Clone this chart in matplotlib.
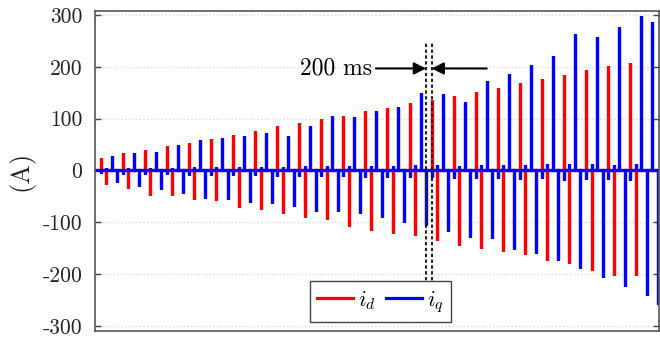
import numpy as np
import matplotlib
matplotlib.use("Agg")
import matplotlib.pyplot as plt

plt.rcParams['font.family'] = ['cmr10', 'DejaVu Serif']
plt.rcParams['mathtext.fontset'] = 'cm'
plt.rcParams['axes.unicode_minus'] = False

# ---------------- data ----------------
pulse_step_s = 0.2   # one injected pulse every 200 ms

# id (red) pulse peaks per cycle (A)
id_pos_peaks = [25, 33, 40, 47, 54, 61, 68, 76, 85, 91, 99, 106, 114, 121, 130,
                137, 144, 152, 160, 168, 177, 184, 194, 202, 207]
id_neg_peaks = [-26, -34, -47, -47, -55, -57, -70, -75, -83, -90, -94, -107, -114,
                -121, -124, -135, -143, -149, -155, -162, -173, -178, -192, -202, -202]
# iq (blue) pulse peaks per cycle (A)
iq_pos_peaks = [27, 34, 36, 50, 59, 63, 67, 73, 67, 85, 106, 103, 114, 123, 150,
                148, 133, 173, 186, 204, 222, 263, 258, 278, 298, 287]
iq_neg_peaks = [-23, -30, -36, -44, -54, -56, -60, -63, -69, -78, -78, -83, -89,
                -99, -106, -117, -128, -131, -152, -160, -173, -189, -205, -224, -240, -258]
# small iq cross-coupling blips during the id pulses (A)
iq_blip_at_id_pos = [-5, -6, -6, -7, -8, -8, -9, -9, -10, -10, -11, -11, -12, -12,
                     -13, -13, -15, -15, -15, -16, -15, -18, -16, -16, -18]
iq_blip_at_id_neg = [4, 4, 5, 5, 6, 6, 6, 7, 7, 8, 8, 8, 9, 9, 10, 10, 9, 10, 10,
                     11, 12, 12, 12, 11, 12]

marker_times_s = [11.8, 12.0]        # dashed markers
yticks = [-300, -200, -100, 0, 100, 200, 300]
ytick_labels = ['-300', '-200', '-100', '0', '100', '200', '300']
legend_labels = [r'$i_d$', r'$i_q$']

# ---------------- build pulse sequences ----------------
id_vals, iq_vals = [], []
for c in range(len(id_pos_peaks)):
    id_vals += [id_pos_peaks[c], id_neg_peaks[c], 0, 0]
    iq_vals += [iq_blip_at_id_pos[c], iq_blip_at_id_neg[c], iq_pos_peaks[c], iq_neg_peaks[c]]
for c in range(len(id_pos_peaks), len(iq_pos_peaks)):
    id_vals += [0, 0]
    iq_vals += [iq_pos_peaks[c], iq_neg_peaks[c]]
id_vals = np.array(id_vals, float)
iq_vals = np.array(iq_vals, float)
t = np.arange(len(id_vals)) * pulse_step_s

xlim = (-0.207, 20.26)
ylim = (-310, 308)


def spike_line(tt, vv):
    x = np.concatenate([[xlim[0]], np.repeat(tt, 3), [xlim[1]]])
    y = np.concatenate([[0], np.column_stack([np.zeros_like(vv), vv, np.zeros_like(vv)]).ravel(), [0]])
    return x, y


# ---------------- figure ----------------
fig = plt.figure(figsize=(6.6, 3.38), dpi=100)
ax = fig.add_axes([0.1439, 0.0207, 0.8551, 0.9468])

ax.grid(axis='y', color='#d9d9d9', linestyle=':', linewidth=1.0)
ax.set_axisbelow(True)

xr, yr = spike_line(t, id_vals)
xb, yb = spike_line(t, iq_vals)
ax.plot(xr, yr, color='#ff0000', lw=2.3, label=legend_labels[0], solid_joinstyle='miter')
ax.plot(xb, yb, color='#0000ff', lw=2.3, label=legend_labels[1], solid_joinstyle='miter')

for mt in marker_times_s:
    ax.plot([mt, mt], [-235, 247], color='#222222', lw=1.5, linestyle=(0, (1.6, 1.2)))

ax.annotate('200 ms', xy=(marker_times_s[0], 197), xytext=(9.83, 197),
            ha='right', va='center', fontsize=17,
            arrowprops=dict(arrowstyle='-|>', color='k', lw=1.5, mutation_scale=18,
                            shrinkA=1, shrinkB=0))
ax.annotate('', xy=(marker_times_s[1], 197), xytext=(14.0, 197),
            arrowprops=dict(arrowstyle='-|>', color='k', lw=1.5, mutation_scale=18,
                            shrinkA=0, shrinkB=0))

ax.set_xlim(*xlim)
ax.set_ylim(*ylim)
ax.set_xticks([])
ax.set_yticks(yticks)
ax.set_yticklabels(ytick_labels)
ax.tick_params(axis='y', direction='in', length=4, width=1, color='#444444',
               labelsize=15.5, pad=9, right=True, labelcolor='#222222')
for s in ax.spines.values():
    s.set_color('#555555')
    s.set_linewidth(1.2)

ax.set_ylabel('(A)', fontsize=19, va='center', color='#222222')
ax.yaxis.set_label_coords(-0.132, 0.5)

leg = ax.legend(loc='lower center', bbox_to_anchor=(0.506, 0.029), ncol=2,
                fontsize=16, frameon=True, fancybox=False, borderaxespad=0,
                handlelength=1.6, handletextpad=0.25, columnspacing=0.45,
                borderpad=0.3)
leg.get_frame().set_edgecolor('#444444')
leg.get_frame().set_linewidth(1.0)
leg.get_frame().set_alpha(1)

fig.savefig('out.png', dpi=100)
